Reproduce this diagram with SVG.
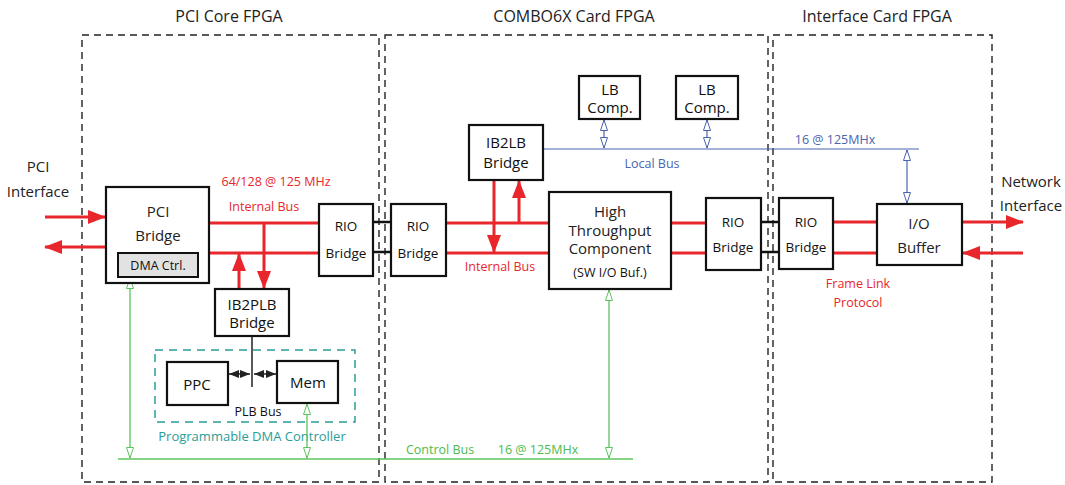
<svg xmlns="http://www.w3.org/2000/svg" width="1065" height="485" viewBox="0 0 1065 485">
<style>
text{font-family:"Open Sans","Liberation Sans",sans-serif;text-anchor:middle;}
.h{font-size:16px;fill:#222}
.t{font-size:15px;fill:#222}
.bt{font-size:15px;fill:#111}
.st{font-size:13.5px;fill:#111}
.red{font-size:12.5px;fill:#e8262b}
.blue{font-size:12.5px;fill:#4a64b0}
.green{font-size:12.5px;fill:#4cbb4c}
.teal{font-size:13px;fill:#2a9d98}
.box{fill:#fff;stroke:#111;stroke-width:2.2}
.region{fill:none;stroke:#222;stroke-width:1.4;stroke-dasharray:7 5}
.rl{stroke:#e8262b;stroke-width:3;fill:none}
.bl{stroke:#111;stroke-width:2.5;fill:none}
.gl{stroke:#5cc45c;stroke-width:1.3;fill:none}
.ul{stroke:#4a64b0;stroke-width:1.2;fill:none}
</style>
<defs>
<marker id="ra" viewBox="0 0 18 14" refX="17" refY="7" markerWidth="18" markerHeight="14" markerUnits="userSpaceOnUse" orient="auto-start-reverse"><path d="M0,0 L18,7 L0,14 Z" fill="#e8262b"/></marker>
<marker id="ga" viewBox="0 0 12 8" refX="11" refY="4" markerWidth="12" markerHeight="8" markerUnits="userSpaceOnUse" orient="auto-start-reverse"><path d="M0.5,0.5 L11,4 L0.5,7.5 Z" fill="#fff" stroke="#5cc45c" stroke-width="1"/></marker>
<marker id="ua" viewBox="0 0 12 8" refX="11" refY="4" markerWidth="12" markerHeight="8" markerUnits="userSpaceOnUse" orient="auto-start-reverse"><path d="M0.5,0.5 L11,4 L0.5,7.5 Z" fill="#fff" stroke="#4a64b0" stroke-width="1"/></marker>
<marker id="ka" viewBox="0 0 10 8" refX="10" refY="4" markerWidth="10" markerHeight="8" markerUnits="userSpaceOnUse" orient="auto-start-reverse"><path d="M0,0 L10,4 L0,8 Z" fill="#222"/></marker>
</defs>

<g id="regions">
<rect class="region" x="82" y="35" width="297" height="447"/>
<rect class="region" x="385" y="35" width="383" height="447"/>
<rect class="region" x="773" y="35" width="219" height="447"/>
<text class="h" x="229" y="22">PCI Core FPGA</text>
<text class="h" x="574" y="22">COMBO6X Card FPGA</text>
<text class="h" x="877" y="22">Interface Card FPGA</text>
</g>

<g id="pdma-region">
<rect x="155" y="350" width="200" height="72" fill="none" stroke="#2a9d98" stroke-width="1.5" stroke-dasharray="8 6"/>
<text class="teal" x="252" y="441">Programmable DMA Controller</text>
</g>

<g id="connectors">
<line class="rl" x1="45" y1="217" x2="105" y2="217" marker-end="url(#ra)"/>
<line class="rl" x1="106" y1="247" x2="45" y2="247" marker-end="url(#ra)"/>
<line class="rl" x1="209" y1="223" x2="319" y2="223"/>
<line class="rl" x1="209" y1="253" x2="319" y2="253"/>
<line class="rl" x1="264" y1="223" x2="264" y2="288" marker-end="url(#ra)"/>
<line class="rl" x1="239" y1="289" x2="239" y2="254" marker-end="url(#ra)"/>
<line class="bl" x1="373" y1="222" x2="391" y2="222"/>
<line class="bl" x1="373" y1="252" x2="391" y2="252"/>
<line class="rl" x1="446" y1="223" x2="549" y2="223"/>
<line class="rl" x1="446" y1="253" x2="549" y2="253"/>
<line class="rl" x1="494" y1="180" x2="494" y2="252" marker-end="url(#ra)"/>
<line class="rl" x1="519" y1="223" x2="519" y2="181" marker-end="url(#ra)"/>
<line class="rl" x1="671" y1="223" x2="706" y2="223"/>
<line class="rl" x1="671" y1="253" x2="706" y2="253"/>
<line class="bl" x1="761" y1="222" x2="779" y2="222"/>
<line class="bl" x1="761" y1="252" x2="779" y2="252"/>
<line class="rl" x1="833" y1="222" x2="877" y2="222"/>
<line class="rl" x1="833" y1="253" x2="877" y2="253"/>
<line class="rl" x1="962" y1="222" x2="1023" y2="222" marker-end="url(#ra)"/>
<line class="rl" x1="1023" y1="253" x2="963" y2="253" marker-end="url(#ra)"/>
<line class="ul" x1="543" y1="149" x2="919" y2="149"/>
<line class="ul" x1="604" y1="120" x2="604" y2="148" marker-start="url(#ua)" marker-end="url(#ua)"/>
<line class="ul" x1="707" y1="120" x2="707" y2="148" marker-start="url(#ua)" marker-end="url(#ua)"/>
<line class="ul" x1="907" y1="150" x2="907" y2="203" marker-start="url(#ua)" marker-end="url(#ua)"/>
<line x1="252" y1="336" x2="252" y2="387" stroke="#222" stroke-width="1.5"/>
<line x1="229" y1="374" x2="250" y2="374" stroke="#222" stroke-width="1.5" marker-start="url(#ka)" marker-end="url(#ka)"/>
<line x1="254" y1="374" x2="276" y2="374" stroke="#222" stroke-width="1.5" marker-start="url(#ka)" marker-end="url(#ka)"/>
<line x1="118" y1="459" x2="633" y2="459" stroke="#5cc45c" stroke-width="1.5"/>
<line class="gl" x1="130" y1="278" x2="130" y2="458" marker-start="url(#ga)" marker-end="url(#ga)"/>
<line class="gl" x1="307" y1="404" x2="307" y2="458" marker-start="url(#ga)" marker-end="url(#ga)"/>
<line class="gl" x1="609" y1="290" x2="609" y2="458" marker-start="url(#ga)" marker-end="url(#ga)"/>
</g>

<g id="labels">
<text class="t" x="38" y="172">PCI</text>
<text class="t" x="38" y="197">Interface</text>
<text class="t" x="1031" y="187">Network</text>
<text class="t" x="1031" y="211">Interface</text>
<text class="red" x="276" y="186">64/128 @ 125 MHz</text>
<text class="red" x="264" y="211">Internal Bus</text>
<text class="red" x="500" y="271">Internal Bus</text>
<text class="red" x="858" y="288">Frame Link</text>
<text class="red" x="858" y="307">Protocol</text>
<text class="blue" x="652" y="168">Local Bus</text>
<text class="blue" x="835" y="144">16 @ 125MHx</text>
<text class="green" x="440" y="454">Control Bus</text>
<text class="green" x="538" y="454">16 @ 125MHx</text>
<text style="font-size:12.5px;fill:#111" x="258" y="416">PLB Bus</text>
</g>

<g id="pci-bridge">
<rect class="box" x="106" y="187" width="103" height="96"/>
<text class="t" x="158" y="217">PCI</text>
<text class="t" x="158" y="241">Bridge</text>
<rect x="118" y="253" width="80" height="24" fill="#e2e2e2" stroke="#111" stroke-width="2"/>
<text style="font-size:12.5px;fill:#111" x="158" y="270">DMA Ctrl.</text>
</g>

<g id="rio1">
<rect class="box" x="319" y="204" width="54" height="72"/>
<text class="st" x="346" y="231">RIO</text>
<text class="st" x="346" y="258">Bridge</text>
</g>

<g id="ib2plb">
<rect class="box" x="215" y="289" width="74" height="47"/>
<text class="bt" x="252" y="310">IB2PLB</text>
<text class="bt" x="252" y="328">Bridge</text>
</g>

<g id="ppc">
<rect class="box" x="167" y="362" width="61" height="43"/>
<text class="bt" x="197" y="390">PPC</text>
</g>

<g id="mem">
<rect class="box" x="277" y="361" width="61" height="42"/>
<text class="bt" x="308" y="388">Mem</text>
</g>

<g id="rio2">
<rect class="box" x="391" y="204" width="55" height="72"/>
<text class="st" x="418" y="231">RIO</text>
<text class="st" x="418" y="258">Bridge</text>
</g>

<g id="ib2lb">
<rect class="box" x="469" y="125" width="74" height="55"/>
<text class="bt" x="506" y="148">IB2LB</text>
<text class="bt" x="506" y="168">Bridge</text>
</g>

<g id="lbcomp1">
<rect class="box" x="579" y="76" width="61" height="43"/>
<text class="bt" x="610" y="95">LB</text>
<text class="bt" x="610" y="113">Comp.</text>
</g>

<g id="lbcomp2">
<rect class="box" x="676" y="76" width="62" height="43"/>
<text class="bt" x="707" y="95">LB</text>
<text class="bt" x="707" y="113">Comp.</text>
</g>

<g id="htc">
<rect class="box" x="549" y="192" width="122" height="97"/>
<text class="t" x="610" y="217">High</text>
<text class="t" x="610" y="236">Throughput</text>
<text class="t" x="610" y="254">Component</text>
<text style="font-size:12.5px;fill:#111" x="610" y="277">(SW I/O Buf.)</text>
</g>

<g id="rio3">
<rect class="box" x="706" y="198" width="55" height="72"/>
<text class="st" x="733" y="227">RIO</text>
<text class="st" x="733" y="252">Bridge</text>
</g>

<g id="rio4">
<rect class="box" x="779" y="198" width="54" height="71"/>
<text class="st" x="806" y="227">RIO</text>
<text class="st" x="806" y="252">Bridge</text>
</g>

<g id="iobuffer">
<rect class="box" x="877" y="204" width="85" height="61"/>
<text class="t" x="919" y="229">I/O</text>
<text class="t" x="919" y="253">Buffer</text>
</g>
</svg>
